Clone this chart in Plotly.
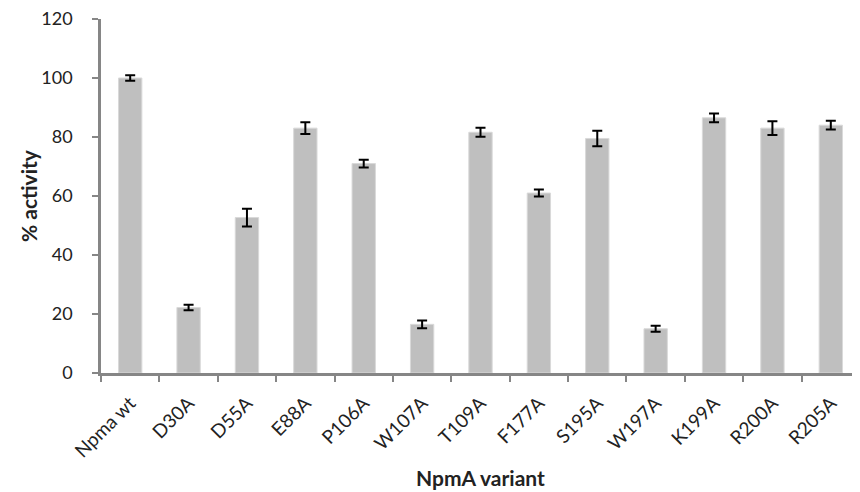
import plotly.graph_objects as go

categories = ["Npma wt", "D30A", "D55A", "E88A", "P106A", "W107A", "T109A",
              "F177A", "S195A", "W197A", "K199A", "R200A", "R205A"]
activity = [100, 22.2, 52.7, 83, 71, 16.5, 81.6, 61, 79.5, 15, 86.5, 83, 84]
errors = [0.9, 0.9, 3.0, 2.0, 1.3, 1.3, 1.5, 1.2, 2.6, 1.0, 1.5, 2.3, 1.5]
y_ticks = [0, 20, 40, 60, 80, 100, 120]
x_title = "NpmA variant"
y_title = "% activity"

axis_grey = "#868686"
font_family = "Lato, 'Open Sans', sans-serif"

fig = go.Figure(go.Bar(
    x=categories, y=activity,
    marker=dict(color="#bfbfbf", line=dict(color="#d9d9d9", width=1)),
    error_y=dict(type="data", array=errors, color="black", thickness=2, width=5),
    width=0.4,
))

# page body has an 8px default margin, so the figure is sized to fit inside 860x492
W, H = 852, 484
ML, MR, MT, MB = 93, 0, 11, 119
pw, ph = W - ML - MR, H - MT - MB

fig.update_layout(
    width=W, height=H,
    margin=dict(l=ML, r=MR, t=MT, b=MB),
    plot_bgcolor="white", paper_bgcolor="white",
    showlegend=False,
    font=dict(family=font_family, color="#222222"),
)
fig.update_xaxes(
    automargin=False,
    showline=True, linecolor=axis_grey, linewidth=2.5,
    ticks="outside", tickson="boundaries", ticklen=6, tickwidth=2, tickcolor=axis_grey,
    tickangle=-45, tickfont=dict(size=19, color="#222222"), ticklabelstandoff=9,
    range=[-0.5, 12.5],
)
fig.update_yaxes(
    automargin=False,
    range=[0, 120], tickvals=y_ticks, showgrid=False, zeroline=False,
    showline=True, linecolor=axis_grey, linewidth=2.5,
    ticks="outside", ticklen=6, tickwidth=2, tickcolor=axis_grey,
    tickfont=dict(size=18, color="#222222"), ticklabelstandoff=16,
    ticklabeloverflow="allow",
)

# axis titles as annotations for exact placement
fig.add_annotation(
    text="<b>" + x_title + "</b>", xref="paper", yref="paper",
    x=0.5, y=-(469 - MT - ph) / ph, xanchor="center", yanchor="middle",
    showarrow=False, font=dict(size=21, color="#222222"),
)
fig.add_annotation(
    text="<b>" + y_title + "</b>", xref="paper", yref="paper",
    x=(20 - ML) / pw, y=0.5, xanchor="center", yanchor="middle", textangle=-90,
    showarrow=False, font=dict(size=21, color="#222222"),
)

fig.write_html("out.html")
